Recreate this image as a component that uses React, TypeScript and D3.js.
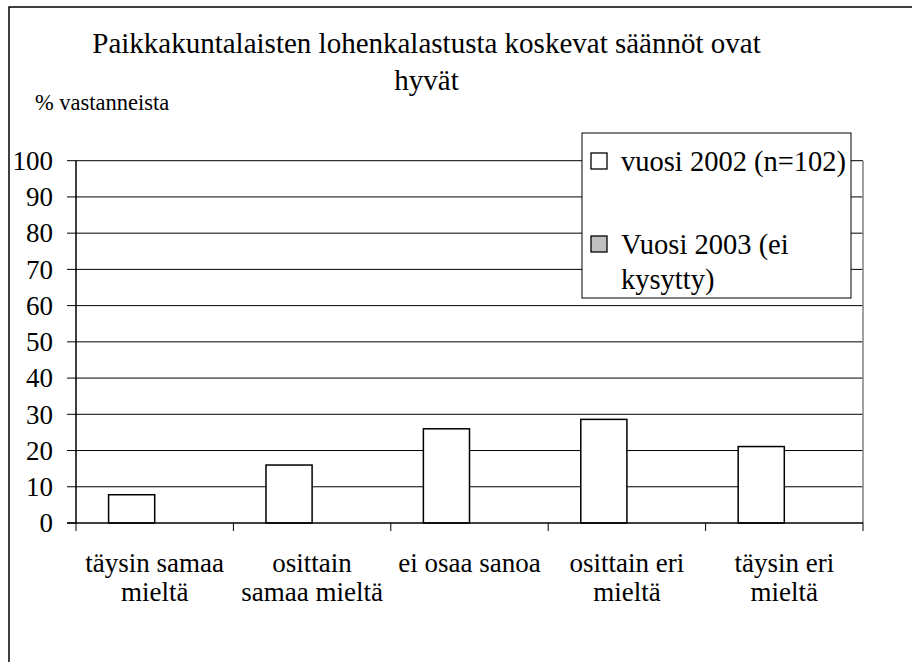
import React from "react";
import * as d3 from "d3";

const categories = [
  ["täysin samaa", "mieltä"],
  ["osittain", "samaa mieltä"],
  ["ei osaa sanoa"],
  ["osittain eri", "mieltä"],
  ["täysin eri", "mieltä"],
];
const series2002 = [7.8, 16.0, 26.0, 28.6, 21.1];
const series2003 = [0, 0, 0, 0, 0];
const yTicks = [0, 10, 20, 30, 40, 50, 60, 70, 80, 90, 100];
const seriesNames = ["vuosi 2002 (n=102)", "Vuosi 2003 (ei", "kysytty)"];
const titleLines = ["Paikkakuntalaisten lohenkalastusta koskevat säännöt ovat", "hyvät"];
const yAxisTitle = "% vastanneista";

const W = 912;
const H = 662;
const left = 76;
const right = 863;
const top = 160.7;
const bottom = 523;
const ff = { fontFamily: "Liberation Serif" };

export default function App() {
  const idx = categories.map((_, i) => String(i));
  const x0 = d3.scaleBand().domain(idx).range([left, right]).paddingInner(0.414).paddingOuter(0.207);
  const step = (right - left) / categories.length;
  const x1 = d3.scaleBand().domain(["a", "b"]).range([0, x0.bandwidth()]);
  const y = d3.scaleLinear().domain([0, 100]).range([bottom, top]);

  return (
    <svg width={W} height={H} style={{ position: "absolute", left: 0, top: 0 }}>
      <rect x={0} y={0} width={W} height={H} fill="white" />
      <rect x={9} y={7} width={W + 20} height={H + 20} fill="none" stroke="black" strokeWidth={1.5} />
      <text x={426.5} y={53} textAnchor="middle" fontSize={29} style={ff}>{titleLines[0]}</text>
      <text x={426.5} y={90} textAnchor="middle" fontSize={29} style={ff}>{titleLines[1]}</text>
      <text x={35} y={110} fontSize={22.5} style={ff}>{yAxisTitle}</text>
      {yTicks.map((t) => (
        <g key={t}>
          {t > 0 && <line x1={left} x2={right} y1={y(t)} y2={y(t)} stroke="black" strokeWidth={1} />}
          <line x1={left - 9} x2={left} y1={y(t)} y2={y(t)} stroke="black" strokeWidth={1} />
          <text x={53} y={y(t) + 9.3} textAnchor="end" fontSize={27} style={ff}>{t}</text>
        </g>
      ))}
      <line x1={right} x2={right} y1={top} y2={bottom} stroke="#808080" strokeWidth={1.5} />
      {series2002.map((v, i) => (
        <rect key={"a" + i} x={(x0(String(i)) as number) + (x1("a") as number)} y={y(v)} width={x1.bandwidth()} height={bottom - y(v)} fill="white" stroke="black" strokeWidth={1.5} />
      ))}
      {series2003.map((v, i) => v > 0 ? (
        <rect key={"b" + i} x={(x0(String(i)) as number) + (x1("b") as number)} y={y(v)} width={x1.bandwidth()} height={bottom - y(v)} fill="#c0c0c0" stroke="black" strokeWidth={1.5} />
      ) : null)}
      <line x1={left} x2={left} y1={top} y2={bottom} stroke="black" strokeWidth={1.5} />
      <line x1={left - 9} x2={right} y1={bottom} y2={bottom} stroke="black" strokeWidth={1.5} />
      {d3.range(categories.length + 1).map((i) => (
        <line key={i} x1={left + i * step} x2={left + i * step} y1={bottom} y2={bottom + 8} stroke="black" strokeWidth={1} />
      ))}
      {categories.map((lines, i) => (
        <text key={i} x={left + (i + 0.5) * step} y={572} textAnchor="middle" fontSize={27} style={ff}>
          {lines.map((l, j) => (
            <tspan key={j} x={left + (i + 0.5) * step} dy={j === 0 ? 0 : 29}>{l}</tspan>
          ))}
        </text>
      ))}
      <rect x={582} y={133} width={269} height={165} fill="white" stroke="black" strokeWidth={1} />
      <rect x={591} y={153} width={16} height={16} fill="white" stroke="black" strokeWidth={1.3} />
      <text x={621} y={171} fontSize={28.5} style={ff}>{seriesNames[0]}</text>
      <rect x={591} y={236} width={16} height={16} fill="#c0c0c0" stroke="black" strokeWidth={1.3} />
      <text x={621} y={254} fontSize={28.5} style={ff}>{seriesNames[1]}</text>
      <text x={621} y={289} fontSize={28.5} style={ff}>{seriesNames[2]}</text>
    </svg>
  );
}
